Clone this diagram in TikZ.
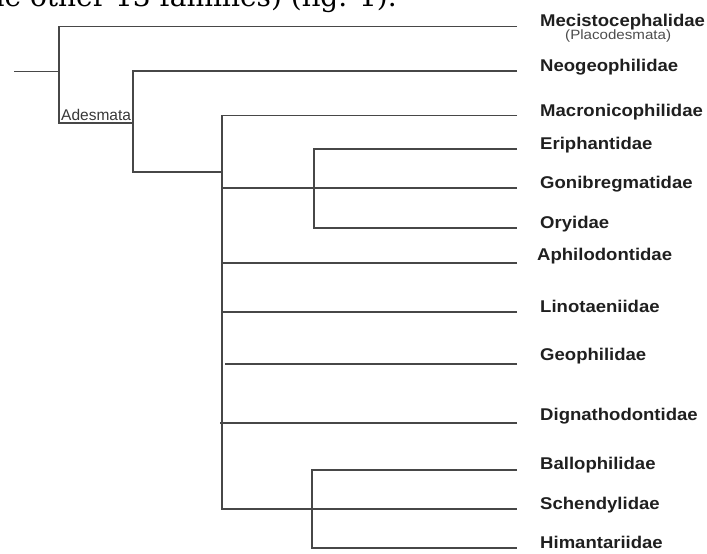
\documentclass[tikz,border=0pt]{standalone}
\usepackage{fontspec}
\setmainfont{Liberation Sans}
\newfontfamily\bodyfont{DejaVu Serif}

\begin{document}
\begin{tikzpicture}[x=1pt,y=-1pt]
              \tikzstyle{every node}+=[inner sep=0pt]
              \tikzstyle{taxon}=[anchor=base west, font=\fontsize{17}{19}\selectfont\bfseries, xscale=1.09, text=black!88]
              \tikzstyle{branch}=[draw=black!72, line width=1.4pt]
              \useasboundingbox (0,0) rectangle (707,554);
              \clip (0,0) rectangle (707,554);
              \node (caption) [anchor=base east, font=\bodyfont\fontsize{28}{30}\selectfont] at (397,6) {the other 13 families) (fig. 1).};
              \node [taxon] (mec) at (540,26) {Mecistocephalidae};
              \node [anchor=base west, font=\fontsize{13.5}{15}\selectfont, xscale=1.12, text=black!70] (placo) at (565,39) {(Placodesmata)};
              \node [taxon] (neo) at (540,71) {Neogeophilidae};
              \node [taxon] (mac) at (540,116) {Macronicophilidae};
              \node [taxon] (eri) at (540,149) {Eriphantidae};
              \node [taxon] (gon) at (540,188) {Gonibregmatidae};
              \node [taxon] (ory) at (540,228) {Oryidae};
              \node [taxon] (aph) at (537,260) {Aphilodontidae};
              \node [taxon] (lin) at (540,312.5) {Linotaeniidae};
              \node [taxon] (geo) at (540,360) {Geophilidae};
              \node [taxon] (dig) at (540,420) {Dignathodontidae};
              \node [taxon] (bal) at (540,469) {Ballophilidae};
              \node [taxon] (sch) at (540,509) {Schendylidae};
              \node [taxon] (him) at (540,548) {Himantariidae};
              \node [anchor=base west, font=\fontsize{15.5}{17}\selectfont, text=black!78] (ades) at (61,120.5) {Adesmata};
              \coordinate (root) at (14,71.7);
              \coordinate (n0) at (59,71.7);
              \coordinate (n0b) at (59,123);
              \coordinate (n1) at (133,123);
              \coordinate (n2) at (222,172);
              \coordinate (n3) at (314,188);
              \coordinate (n4) at (312,509);
              \coordinate (t-mec) at (517,26.5);
              \coordinate (t-neo) at (517,71);
              \coordinate (t-mac) at (517,115.5);
              \coordinate (t-eri) at (517,149);
              \coordinate (t-gon) at (517,188);
              \coordinate (t-ory) at (517,228);
              \coordinate (t-aph) at (517,263);
              \coordinate (t-lin) at (517,312);
              \coordinate (t-geo) at (517,364);
              \coordinate (t-dig) at (517,423);
              \coordinate (t-bal) at (517,470);
              \coordinate (t-sch) at (517,509);
              \coordinate (t-him) at (517,548);
              \draw [branch] (root) -- (n0);
              \draw [branch] (t-mec) -| (n0b) -- (n1);
              \draw [branch] (t-neo) -| (n1) |- (n2);
              \draw [branch] (t-mac) -| (n2) |- (t-sch);
              \draw [branch] (t-gon) -- (t-gon -| n2);
              \draw [branch] (t-aph) -- (t-aph -| n2);
              \draw [branch] (t-lin) -- (t-lin -| n2);
              \draw [branch] (t-geo) -- ([xshift=3pt]t-geo -| n2);
              \draw [branch] (t-dig) -- ([xshift=-2pt]t-dig -| n2);
              \draw [branch] (t-eri) -| (n3) |- (t-ory);
              \draw [branch] (t-bal) -| (n4) |- (t-him);
            \end{tikzpicture}
\end{document}
